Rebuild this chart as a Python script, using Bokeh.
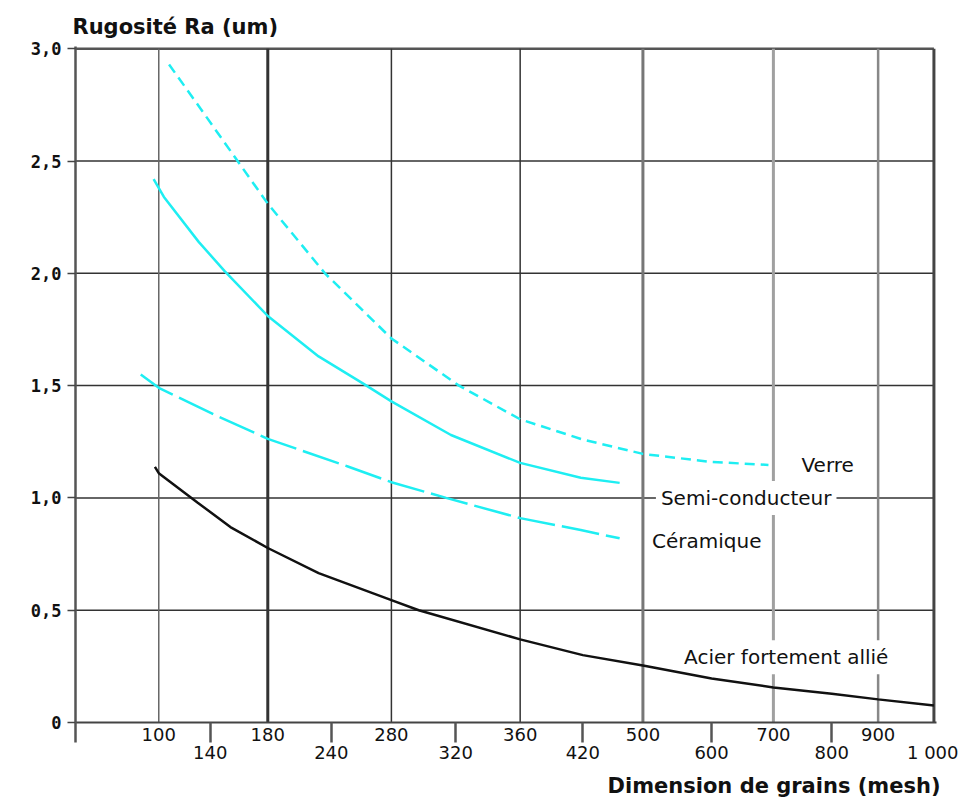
import numpy as np
from bokeh.plotting import figure
from bokeh.models import Range1d, FixedTicker, LinearAxis, Label, CustomJSTickFormatter, Title
from bokeh.embed import file_html
from bokeh.resources import INLINE

# ---- x axis definition (non-linear mesh scale): ticks and their relative place on the axis (per mille)
tick_mesh = [100, 140, 180, 240, 280, 320, 360, 420, 500, 600, 700, 800, 900, 1000]
tick_pos = [97, 157, 224, 298, 368, 443, 518, 591, 661, 741, 813, 881, 935, 1000]
tick_text = ["100", "140", "180", "240", "280", "320", "360", "420", "500", "600", "700", "800", "900", "1 000"]
upper_row = [100, 180, 280, 360, 500, 700, 900]
lower_row = [140, 240, 320, 420, 600, 800, 1000]
grid_mesh = [100, 180, 280, 360, 500, 700, 900, 1000]

# ---- y axis
y_ticks = [0, 0.5, 1.0, 1.5, 2.0, 2.5, 3.0]

# ---- series (mesh, Ra in um)
verre_mesh = [108, 131, 159, 180, 234, 280, 322, 360, 420, 500, 600, 692]
verre_ra = [2.93, 2.745, 2.50, 2.31, 2.00, 1.71, 1.50, 1.35, 1.26, 1.196, 1.16, 1.147]

semi_mesh = [96, 104, 131, 150, 180, 228, 261, 280, 317, 360, 418, 469]
semi_ra = [2.42, 2.34, 2.14, 2.01, 1.81, 1.63, 1.51, 1.43, 1.28, 1.156, 1.09, 1.067]

ceram_mesh = [86, 100, 143, 180, 251, 280, 314, 360, 418, 469]
ceram_ra = [1.55, 1.49, 1.37, 1.263, 1.14, 1.07, 1.00, 0.91, 0.857, 0.82]

acier_mesh = [97, 100, 130, 154, 180, 228, 280, 297, 360, 420, 500, 600, 700, 800, 900, 1000]
acier_ra = [1.138, 1.11, 0.98, 0.87, 0.777, 0.665, 0.545, 0.50, 0.37, 0.30, 0.254, 0.196, 0.156, 0.128, 0.103, 0.076]


def to_axis(m):
    m = np.asarray(m, dtype=float)
    pos = np.interp(m, tick_mesh, tick_pos)
    slope = (tick_pos[1] - tick_pos[0]) / (tick_mesh[1] - tick_mesh[0])
    return np.where(m < tick_mesh[0], tick_pos[0] + (m - tick_mesh[0]) * slope, pos)


p = figure(width=958, height=805, output_backend="svg", toolbar_location=None,
           x_range=Range1d(0, 1003), y_range=Range1d(0, 3.01),
           min_border_left=75, min_border_right=22, min_border_top=46, min_border_bottom=83)
p.outline_line_color = None
p.xgrid.visible = False
p.ygrid.visible = False
p.background_fill_color = "white"

# ---- titles
p.title.text = "Rugosité Ra (um)"
p.title.align = "left"
p.title.offset = -3
p.title.standoff = 15
p.title.text_font = "DejaVu Sans"
p.title.text_font_style = "bold"
p.title.text_font_size = "21px"
p.title.text_color = "#111111"

# ---- grid lines (drawn beneath labels and curves)
hy = y_ticks[1:]
p.segment(x0=[0] * len(hy), y0=hy, x1=[float(to_axis(1000))] * len(hy), y1=hy,
          line_color=["#333333"] * (len(hy) - 1) + ["#555555"],
          line_width=[1.5] * (len(hy) - 1) + [2.5], level="image")
gx = list(to_axis(grid_mesh))
p.segment(x0=gx, y0=[0] * len(gx), x1=gx, y1=[3.0] * len(gx),
          line_color=["#666666", "#333333", "#333333", "#333333", "#777777", "#a0a0a0", "#888888", "#444444"],
          line_width=[1.5, 3, 1.5, 1.5, 3, 3, 2.5, 3], level="image")

# ---- curves
cyan = "#1EEEF2"
p.line(to_axis(verre_mesh), verre_ra, line_color=cyan, line_width=2.5, line_dash="10 6")
p.line(to_axis(semi_mesh), semi_ra, line_color=cyan, line_width=2.5)
p.line(to_axis(ceram_mesh), ceram_ra, line_color=cyan, line_width=2.5, line_dash="38 7")
p.line(to_axis(acier_mesh), acier_ra, line_color="#111111", line_width=2.5)

# ---- axes
fmt_code = """
let best = 0; let bd = 1e9;
for (let i = 0; i < pos.length; i++) { const d = Math.abs(pos[i] - tick); if (d < bd) { bd = d; best = i; } }
return lab[best];
"""
xfmt = CustomJSTickFormatter(args=dict(pos=[float(v) for v in to_axis(tick_mesh)], lab=tick_text), code=fmt_code)

ax1 = p.xaxis[0]
ax1.ticker = FixedTicker(ticks=[float(v) for v in to_axis(upper_row)],
                         minor_ticks=[float(v) for v in to_axis(lower_row[:-1])] + [0.4])
ax1.formatter = xfmt
ax1.major_tick_out = 0
ax1.major_tick_in = 0
ax1.minor_tick_out = 20
ax1.minor_tick_in = 0
ax1.minor_tick_line_color = "#555555"
ax1.minor_tick_line_width = 2.5
ax1.axis_line_color = "#444444"
ax1.axis_line_width = 2
ax1.major_label_standoff = -15
ax1.major_label_text_font = "DejaVu Sans"
ax1.major_label_text_font_size = "18px"
ax1.major_label_text_color = "#111111"

ax2 = LinearAxis(ticker=FixedTicker(ticks=[float(v) for v in to_axis(lower_row)], minor_ticks=[]),
                 formatter=xfmt)
ax2.axis_line_color = None
ax2.major_tick_line_color = None
ax2.major_tick_out = 0
ax2.major_tick_in = 0
ax2.minor_tick_line_color = None
ax2.major_label_standoff = -2
ax2.major_label_text_font = "DejaVu Sans"
ax2.major_label_text_font_size = "18px"
ax2.major_label_text_color = "#111111"
p.add_layout(ax2, "below")

p.add_layout(Title(text="Dimension de grains (mesh)", align="right", offset=-4, standoff=13,
                   text_font="DejaVu Sans", text_font_style="bold", text_font_size="21px",
                   text_color="#111111"), "below")

ya = p.yaxis[0]
ya.ticker = FixedTicker(ticks=y_ticks, minor_ticks=[])
ya.formatter = CustomJSTickFormatter(code='return tick == 0 ? "0" : tick.toFixed(1).replace(".", ",");')
ya.major_tick_out = 8
ya.major_tick_in = 0
ya.major_tick_line_color = "#444444"
ya.major_tick_line_width = 1.5
ya.axis_line_color = "#555555"
ya.axis_line_width = 2.5
ya.major_label_standoff = 6
ya.major_label_text_font = "DejaVu Sans Mono"
ya.major_label_text_font_style = "bold"
ya.major_label_text_font_size = "17px"
ya.major_label_text_color = "#111111"

# ---- curve labels (white boxes break the grid lines, beneath the curves)
lab_style = dict(text_font="DejaVu Sans", text_font_size="20px", text_color="#111111",
                 text_align="center", text_baseline="middle",
                 background_fill_color="white", background_fill_alpha=1.0, padding=5,
                 level="underlay")
p.add_layout(Label(x=float(to_axis(793)), y=1.147, text="Verre", **lab_style))
p.add_layout(Label(x=float(to_axis(656)), y=1.0, text="Semi-conducteur", **lab_style))
p.add_layout(Label(x=float(to_axis(593)), y=0.808, text="Céramique", **lab_style))
p.add_layout(Label(x=float(to_axis(722)), y=0.29, text="Acier fortement allié", **lab_style))

open("out.html", "w").write(file_html(p, INLINE))
